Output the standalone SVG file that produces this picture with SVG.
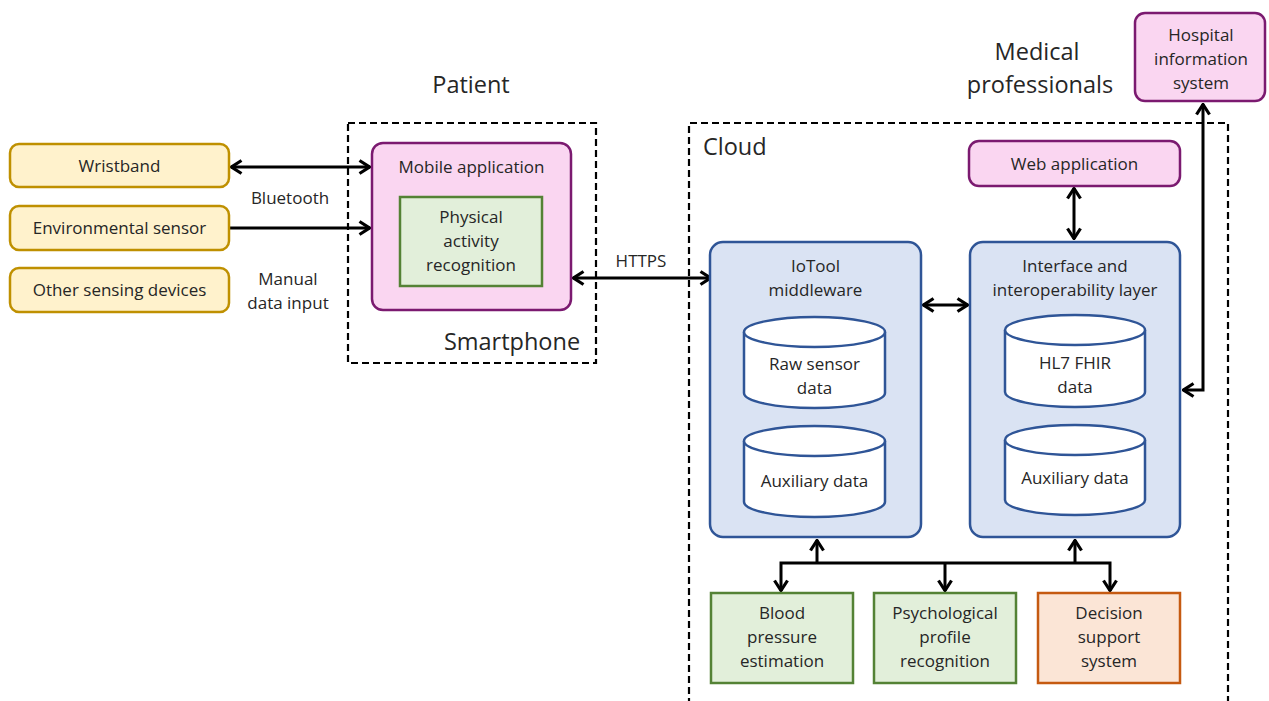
<svg xmlns="http://www.w3.org/2000/svg" width="1269" height="701" viewBox="0 0 1269 701">
  <style>
    text { font-family: "Open Sans", "Noto Sans", "Liberation Sans", sans-serif; fill: #262626; text-anchor: middle; }
    .t { font-size: 17px; }
    .big { font-size: 23.5px; }
    .yellow { fill: #fff2cc; stroke: #bf9000; stroke-width: 2.5; }
    .pink { fill: #fad6f1; stroke: #7b1a70; stroke-width: 2.5; }
    .green { fill: #e2efda; stroke: #548235; stroke-width: 2.5; }
    .blue { fill: #dae3f3; stroke: #2f5597; stroke-width: 2.5; }
    .orange { fill: #fbe5d6; stroke: #c55a11; stroke-width: 2.5; }
    .cyl { fill: #ffffff; stroke: #2f5597; stroke-width: 2.5; }
    .frame { fill: none; stroke: #000; stroke-width: 2.2; stroke-dasharray: 7 4; }
    .conn { fill: none; stroke: #000; stroke-width: 3; }
  </style>
  <defs>
    <marker id="head" viewBox="0 0 13 16" refX="12" refY="8" markerWidth="13" markerHeight="16" markerUnits="userSpaceOnUse" orient="auto-start-reverse">
      <path d="M1.5,1.5 L11.5,8 L1.5,14.5" fill="none" stroke="#000" stroke-width="3.2"/>
    </marker>
  </defs>

  <rect width="1269" height="701" fill="#ffffff"/>

  <!-- group frames and headings -->
  <g id="smartphone-frame">
    <rect class="frame" x="348" y="123" width="248" height="240"/>
    <text class="big" x="512" y="350">Smartphone</text>
  </g>
  <g id="cloud-frame">
    <path class="frame" d="M689,705 L689,123 L1228,123 L1228,705"/>
    <text class="big" x="703" y="155" style="text-anchor:start">Cloud</text>
  </g>
  <g id="patient-label">
    <text class="big" x="471" y="93">Patient</text>
  </g>
  <g id="medical-label">
    <text class="big" x="1037" y="60">Medical</text>
    <text class="big" x="1040" y="93">professionals</text>
  </g>

  <!-- connectors -->
  <g id="connectors">
    <line class="conn" x1="231" y1="167" x2="370" y2="167" marker-start="url(#head)" marker-end="url(#head)"/>
    <line class="conn" x1="229" y1="228" x2="370" y2="228" marker-end="url(#head)"/>
    <line class="conn" x1="573" y1="278" x2="711" y2="278" marker-start="url(#head)" marker-end="url(#head)"/>
    <line class="conn" x1="923" y1="305" x2="968" y2="305" marker-start="url(#head)" marker-end="url(#head)"/>
    <line class="conn" x1="1074" y1="188" x2="1074" y2="239" marker-start="url(#head)" marker-end="url(#head)"/>
    <path class="conn" d="M1203,104 L1203,390 L1183,390" marker-start="url(#head)" marker-end="url(#head)"/>
    <line class="conn" x1="817" y1="564" x2="817" y2="540" marker-end="url(#head)"/>
    <line class="conn" x1="1075" y1="564" x2="1075" y2="540" marker-end="url(#head)"/>
    <path class="conn" d="M781,591 L781,563 L1110,563 L1110,591" marker-start="url(#head)" marker-end="url(#head)"/>
    <line class="conn" x1="945" y1="563" x2="945" y2="591" marker-end="url(#head)"/>
    <text class="t" x="290" y="204">Bluetooth</text>
    <text class="t" x="288" y="285">Manual</text>
    <text class="t" x="288" y="309">data input</text>
    <text class="t" x="641" y="267">HTTPS</text>
  </g>

  <!-- sensing devices -->
  <g id="wristband">
    <rect class="yellow" x="10" y="144" width="219" height="43" rx="9"/>
    <text class="t" x="119.5" y="172">Wristband</text>
  </g>
  <g id="environmental-sensor">
    <rect class="yellow" x="10" y="206" width="219" height="44" rx="9"/>
    <text class="t" x="119.5" y="234">Environmental sensor</text>
  </g>
  <g id="other-sensing-devices">
    <rect class="yellow" x="10" y="268" width="219" height="44" rx="9"/>
    <text class="t" x="119.5" y="296">Other sensing devices</text>
  </g>

  <!-- smartphone -->
  <g id="mobile-application">
    <rect class="pink" x="372" y="143" width="199" height="167" rx="11"/>
    <text class="t" x="471.5" y="173">Mobile application</text>
  </g>
  <g id="physical-activity-recognition">
    <rect class="green" x="400" y="197" width="142" height="89"/>
    <text class="t" x="471" y="223">Physical</text>
    <text class="t" x="471" y="247">activity</text>
    <text class="t" x="471" y="271">recognition</text>
  </g>

  <!-- medical side -->
  <g id="hospital-information-system">
    <rect class="pink" x="1135" y="13" width="130" height="88" rx="10"/>
    <text class="t" x="1201" y="41">Hospital</text>
    <text class="t" x="1201" y="65">information</text>
    <text class="t" x="1201" y="89">system</text>
  </g>
  <g id="web-application">
    <rect class="pink" x="969" y="141" width="211" height="45" rx="10"/>
    <text class="t" x="1074.5" y="170">Web application</text>
  </g>

  <!-- cloud services -->
  <g id="iotool-middleware">
    <rect class="blue" x="710" y="242" width="211" height="295" rx="13"/>
    <text class="t" x="815.5" y="272">IoTool</text>
    <text class="t" x="815.5" y="296">middleware</text>
  </g>
  <g id="raw-sensor-data">
    <path class="cyl" d="M744,332 L744,393 A70.5,15 0 0 0 885,393 L885,332 A70.5,15 0 0 0 744,332 Z"/>
    <path class="cyl" d="M744,332 A70.5,15 0 0 0 885,332"/>
    <text class="t" x="814.5" y="370">Raw sensor</text>
    <text class="t" x="814.5" y="394">data</text>
  </g>
  <g id="iotool-auxiliary-data">
    <path class="cyl" d="M744,441 L744,502 A70.5,15 0 0 0 885,502 L885,441 A70.5,15 0 0 0 744,441 Z"/>
    <path class="cyl" d="M744,441 A70.5,15 0 0 0 885,441"/>
    <text class="t" x="814.5" y="487">Auxiliary data</text>
  </g>
  <g id="interface-interoperability-layer">
    <rect class="blue" x="970" y="242" width="210" height="295" rx="13"/>
    <text class="t" x="1075" y="272">Interface and</text>
    <text class="t" x="1075" y="296">interoperability layer</text>
  </g>
  <g id="hl7-fhir-data">
    <path class="cyl" d="M1005,330 L1005,392 A70,15 0 0 0 1145,392 L1145,330 A70,15 0 0 0 1005,330 Z"/>
    <path class="cyl" d="M1005,330 A70,15 0 0 0 1145,330"/>
    <text class="t" x="1075" y="369">HL7 FHIR</text>
    <text class="t" x="1075" y="393">data</text>
  </g>
  <g id="interface-auxiliary-data">
    <path class="cyl" d="M1005,440 L1005,500 A70,15 0 0 0 1145,500 L1145,440 A70,15 0 0 0 1005,440 Z"/>
    <path class="cyl" d="M1005,440 A70,15 0 0 0 1145,440"/>
    <text class="t" x="1075" y="484">Auxiliary data</text>
  </g>

  <!-- analysis modules -->
  <g id="blood-pressure-estimation">
    <rect class="green" x="711" y="593" width="142" height="90"/>
    <text class="t" x="782" y="619">Blood</text>
    <text class="t" x="782" y="643">pressure</text>
    <text class="t" x="782" y="667">estimation</text>
  </g>
  <g id="psychological-profile-recognition">
    <rect class="green" x="874" y="593" width="142" height="90"/>
    <text class="t" x="945" y="619">Psychological</text>
    <text class="t" x="945" y="643">profile</text>
    <text class="t" x="945" y="667">recognition</text>
  </g>
  <g id="decision-support-system">
    <rect class="orange" x="1038" y="593" width="142" height="90"/>
    <text class="t" x="1109" y="619">Decision</text>
    <text class="t" x="1109" y="643">support</text>
    <text class="t" x="1109" y="667">system</text>
  </g>
</svg>
